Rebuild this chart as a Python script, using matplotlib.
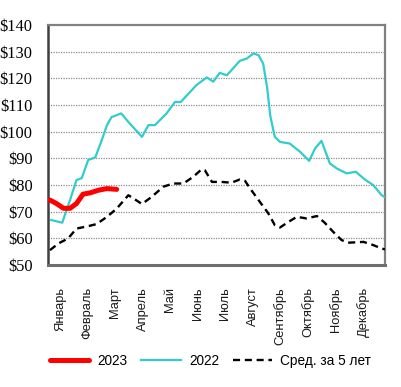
import matplotlib
matplotlib.use("Agg")
import matplotlib.pyplot as plt

# ---------- Data (weeks of year, $ per unit) ----------
months = ["Январь", "Февраль", "Март", "Апрель", "Май", "Июнь",
          "Июль", "Август", "Сентябрь", "Октябрь", "Ноябрь", "Декабрь"]
month_pos = [1.85, 6.1, 10.35, 14.6, 18.85, 23.1,
             27.35, 31.6, 35.85, 40.1, 44.35, 48.6]

x_2023 = [0.3, 1.3, 2.4, 3.4, 4.4, 5.4, 6.5, 7.8, 9.1, 10.6]
y_2023 = [74.4, 73.1, 71.3, 71.3, 73.1, 76.6, 77.1, 78.1, 78.7, 78.4]

x_2022 = [0.5, 2.2, 3.4, 4.4, 5.2, 6.2, 7.3, 8.3, 9.1, 9.8, 11.3, 12.4,
          14.5, 15.5, 16.5, 18.3, 19.6, 20.5, 22.9, 24.5, 25.5, 26.5,
          27.6, 29.6, 30.7, 31.7, 32.5, 33.2, 33.8, 34.3, 35.0, 35.8,
          37.3, 38.9, 40.3, 41.2, 42.2, 43.5, 44.6, 46.1, 47.5, 48.9,
          50.2, 51.5, 52.0]
y_2022 = [66.9, 65.9, 74.4, 81.9, 82.6, 89.4, 90.4, 96.9, 102.5, 105.5,
          106.9, 103.7, 98.1, 102.5, 102.5, 106.9, 111.2, 111.2, 117.5,
          120.4, 118.8, 122.1, 121.2, 126.6, 127.5, 129.4, 128.7, 125.6,
          116.9, 106.0, 98.1, 96.2, 95.6, 92.5, 89.1, 93.7, 96.6, 88.1,
          86.2, 84.4, 85.0, 82.1, 80.0, 76.2, 75.5]

x_avg = [0.3, 1.6, 3.1, 4.4, 6.2, 7.5, 9.1, 10.6, 12.4, 13.2, 14.5, 16.0,
         17.8, 19.3, 20.9, 22.4, 23.7, 24.2, 25.3, 26.8, 28.3, 29.6, 30.4,
         31.2, 32.7, 34.0, 35.0, 35.8, 37.1, 38.4, 39.9, 41.5, 42.7, 44.0,
         45.3, 46.3, 48.7, 50.2, 51.5, 52.0]
y_avg = [55.6, 58.1, 60.0, 63.7, 64.6, 65.4, 68.1, 71.2, 76.2, 75.0, 72.9,
         75.6, 79.4, 80.6, 80.6, 83.1, 85.9, 85.6, 81.2, 81.2, 80.9, 82.1,
         81.6, 78.7, 73.7, 69.4, 65.0, 64.1, 66.2, 68.1, 67.5, 68.4, 65.9,
         62.5, 59.4, 58.4, 58.7, 57.5, 56.2, 55.9]

y_ticks = [50, 60, 70, 80, 90, 100, 110, 120, 130, 140]

# ---------- Plot ----------
fig = plt.figure(figsize=(4.01, 3.87), dpi=100)
ax = fig.add_axes([0.1197, 0.315, 0.8403, 0.62])

for v in y_ticks[1:-1]:
    ax.axhline(v, color="#8c8c8c", lw=0.9, ls=(0, (1, 1)), zorder=1)

ax.plot(x_avg, y_avg, color="black", lw=1.7, ls=(0, (3, 2)),
        label="Сред. за 5 лет", zorder=3)
ax.plot(x_2022, y_2022, color="#33CCCC", lw=1.6, label="2022", zorder=4)
ax.plot(x_2023, y_2023, color="#FF0000", lw=3.6, label="2023",
        solid_capstyle="round", zorder=5)

ax.set_xlim(0, 52)
ax.set_ylim(50, 140)
ax.set_yticks(y_ticks)
ax.set_yticklabels([f"${v}" for v in y_ticks],
                   fontfamily="Liberation Serif", fontsize=11.8)
ax.set_xticks(month_pos)
ax.set_xticklabels(months, rotation=90, fontsize=9.3,
                   fontfamily="Liberation Sans", color="#1a1a1a")
ax.tick_params(axis="both", length=0)
ax.tick_params(axis="x", pad=16)
ax.tick_params(axis="y", pad=11)

for side in ["top", "right"]:
    ax.spines[side].set_color("#808080")
    ax.spines[side].set_linewidth(1.6)
ax.spines["bottom"].set_color("#6e6e6e")
ax.spines["bottom"].set_linewidth(2.2)
ax.spines["left"].set_color("#404040")
ax.spines["left"].set_linewidth(1.8)

handles, labels = ax.get_legend_handles_labels()
order = [2, 1, 0]
fig.legend([handles[i] for i in order], [labels[i] for i in order],
           loc="center", bbox_to_anchor=(0.525, 0.067), ncol=3,
           frameon=False, handlelength=2.9, columnspacing=1.0,
           handletextpad=0.6, prop={"family": "Liberation Sans", "size": 9.8})

fig.savefig("out.png", dpi=100)
